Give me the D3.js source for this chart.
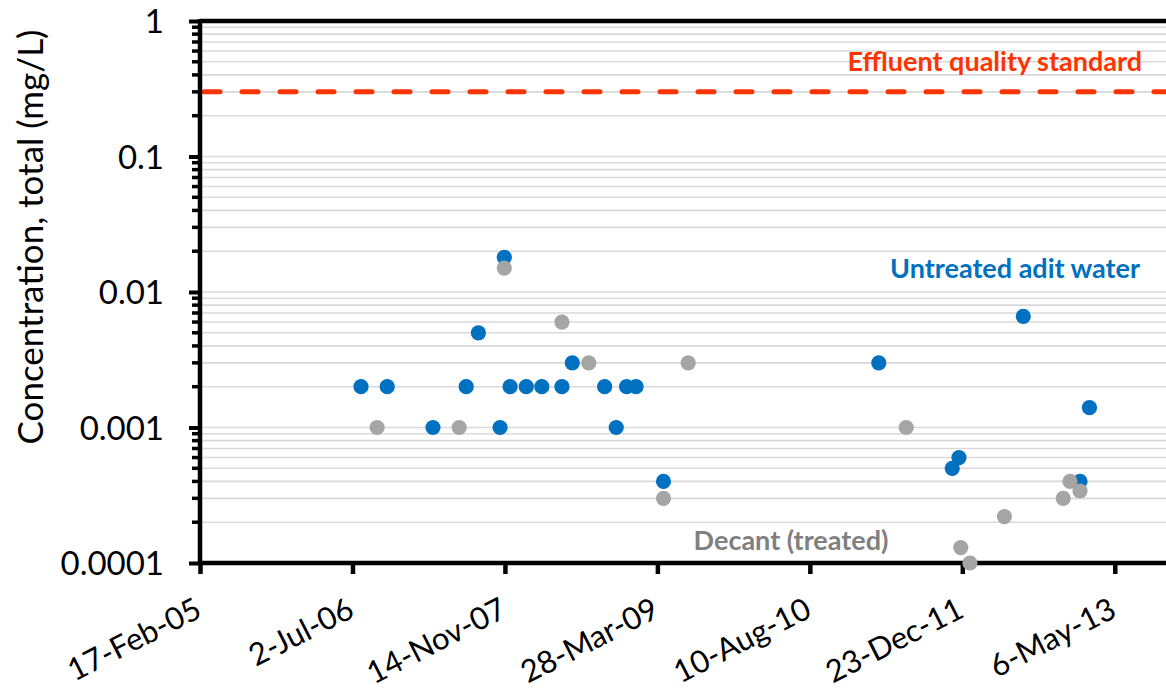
<!DOCTYPE html>
<html>
<head>
<meta charset="utf-8">
<script src="https://cdn.jsdelivr.net/npm/d3@7"></script>
<style>
  html, body { margin: 0; padding: 0; background: #fff; }
  svg { display: block; }
  text { font-family: Lato, "Open Sans", sans-serif; }
</style>
</head>
<body>
<svg id="chart" width="1166" height="693"></svg>
<script>
// ---- data ----
const tickDates = ["2005-02-17", "2006-07-02", "2007-11-14", "2009-03-28", "2010-08-10", "2011-12-23", "2013-05-06"];
const tickLabels = ["17-Feb-05", "2-Jul-06", "14-Nov-07", "28-Mar-09", "10-Aug-10", "23-Dec-11", "6-May-13"];
const yTickValues = [0.0001, 0.001, 0.01, 0.1, 1];
const yTickLabels = ["0.0001", "0.001", "0.01", "0.1", "1"];

const untreatedDates = ["2006-07-30", "2006-10-24", "2007-03-23", "2007-07-10", "2007-08-19", "2007-10-29",
  "2007-11-12", "2007-12-01", "2008-01-23", "2008-03-14", "2008-05-19", "2008-06-22", "2008-10-06",
  "2008-11-13", "2008-12-17", "2009-01-17", "2009-04-17", "2011-03-24", "2011-11-20", "2011-12-12",
  "2012-07-10", "2013-01-12", "2013-02-12"];
const untreatedValues = [0.002, 0.002, 0.001, 0.002, 0.005, 0.001,
  0.018, 0.002, 0.002, 0.002, 0.002, 0.003, 0.002,
  0.001, 0.002, 0.002, 0.0004, 0.003, 0.0005, 0.0006,
  0.0066, 0.0004, 0.0014];

const decantDates = ["2006-09-21", "2007-06-17", "2007-11-12", "2008-05-19", "2008-08-15", "2009-04-17",
  "2009-07-07", "2011-06-22", "2011-12-18", "2012-01-17", "2012-05-09", "2012-11-18", "2012-12-10", "2013-01-12"];
const decantValues = [0.001, 0.001, 0.015, 0.006, 0.003, 0.0003,
  0.003, 0.001, 0.00013, 0.0001, 0.00022, 0.0003, 0.0004, 0.00034];

const standardValue = 0.3;
const xDomain = ["2005-02-17", "2013-10-21"];
const yDomain = [0.0001, 1];

// ---- layout ----
const svg = d3.select("#chart");
const mLeft = 200, mRight = 1166, mTop = 21, mBottom = 563;
const parse = d3.utcParse("%Y-%m-%d");

const x = d3.scaleUtc().domain(xDomain.map(parse)).range([mLeft, mRight]);
const y = d3.scaleLog().domain(yDomain).range([mBottom, mTop]);

const majorVals = [0.0001, 0.001, 0.01, 0.1, 1];
const gridVals = [];
for (let e = -4; e < 0; e++) {
  for (let m = 1; m <= 9; m++) gridVals.push(+(m * Math.pow(10, e)).toPrecision(6));
}
const isMajor = v => majorVals.some(t => Math.abs(t - v) / t < 1e-6);

// gridlines
svg.append("g").selectAll("line").data(gridVals.filter(v => v > 0.0001)).join("line")
  .attr("x1", mLeft).attr("x2", mRight)
  .attr("y1", d => y(d)).attr("y2", d => y(d))
  .attr("stroke", "#d9d9d9").attr("stroke-width", 1.6);

// standard dashed line
svg.append("line")
  .attr("x1", mLeft + 4).attr("x2", mRight)
  .attr("y1", y(standardValue)).attr("y2", y(standardValue))
  .attr("stroke", "#ff3300").attr("stroke-width", 5)
  .attr("stroke-dasharray", "16,22").attr("stroke-linecap", "round");

// y axis
const yAxisG = svg.append("g").attr("transform", `translate(${mLeft},0)`);
yAxisG.call(d3.axisLeft(y).tickValues(yTickValues).tickFormat((d, i) => yTickLabels[i]).tickSize(11).tickPadding(25));
yAxisG.select(".domain").remove();
yAxisG.selectAll(".tick line").attr("stroke", "#000").attr("stroke-width", 4);
yAxisG.selectAll(".tick text").attr("font-size", 33).attr("fill", "#000")
  .attr("font-family", "Lato, sans-serif").attr("dy", "0.36em");
yAxisG.selectAll("line.minor").data(gridVals.filter(v => !isMajor(v)))
  .join("line").attr("class", "minor")
  .attr("x1", -8).attr("x2", 2)
  .attr("y1", d => y(d)).attr("y2", d => y(d))
  .attr("stroke", "#000").attr("stroke-width", 3.5);
yAxisG.append("line").attr("x1", 0).attr("x2", 0).attr("y1", mTop - 2).attr("y2", mBottom + 2)
  .attr("stroke", "#000").attr("stroke-width", 4.5);

// top border at 1
svg.append("line").attr("x1", mLeft).attr("x2", mRight)
  .attr("y1", y(1)).attr("y2", y(1)).attr("stroke", "#000").attr("stroke-width", 4.5);

// x axis
const xAxisG = svg.append("g").attr("transform", `translate(0,${mBottom})`);
xAxisG.call(d3.axisBottom(x).tickValues(tickDates.map(parse)).tickFormat((d, i) => tickLabels[i]).tickSize(11).tickSizeOuter(0));
xAxisG.select(".domain").remove();
xAxisG.append("line").attr("x1", mLeft - 2).attr("x2", mRight).attr("y1", 0).attr("y2", 0)
  .attr("stroke", "#000").attr("stroke-width", 4.5);
xAxisG.selectAll(".tick line").attr("stroke", "#000").attr("stroke-width", 4.5);
xAxisG.selectAll(".tick text")
  .attr("font-size", 31).attr("fill", "#000").attr("font-family", "Lato, sans-serif")
  .attr("text-anchor", "end")
  .attr("transform", "translate(3,53) rotate(-27)")
  .attr("x", 0).attr("y", 0).attr("dy", 0);

// y axis title
svg.append("text")
  .attr("transform", `translate(43,237) rotate(-90)`)
  .attr("text-anchor", "middle")
  .attr("font-size", 35).attr("fill", "#000")
  .text("Concentration, total (mg/L)");

// points
const untreated = untreatedDates.map((d, i) => ({ date: parse(d), value: untreatedValues[i] }));
const decant = decantDates.map((d, i) => ({ date: parse(d), value: decantValues[i] }));

svg.append("g").selectAll("circle").data(untreated).join("circle")
  .attr("cx", d => x(d.date)).attr("cy", d => y(d.value)).attr("r", 7.6).attr("fill", "#0070c0");
svg.append("g").selectAll("circle").data(decant).join("circle")
  .attr("cx", d => x(d.date)).attr("cy", d => y(d.value)).attr("r", 7.6).attr("fill", "#a5a5a5");

// annotations
svg.append("text").attr("x", 1142).attr("y", 71).attr("text-anchor", "end")
  .attr("font-size", 27).attr("font-weight", 700).attr("fill", "#ff3300")
  .text("Effluent quality standard");
svg.append("text").attr("x", 1140).attr("y", 278).attr("text-anchor", "end")
  .attr("font-size", 27).attr("font-weight", 700).attr("fill", "#0070c0")
  .text("Untreated adit water");
svg.append("text").attr("x", 791).attr("y", 550).attr("text-anchor", "middle")
  .attr("font-size", 27).attr("font-weight", 700).attr("fill", "#808080")
  .text("Decant (treated)");
</script>
</body>
</html>
